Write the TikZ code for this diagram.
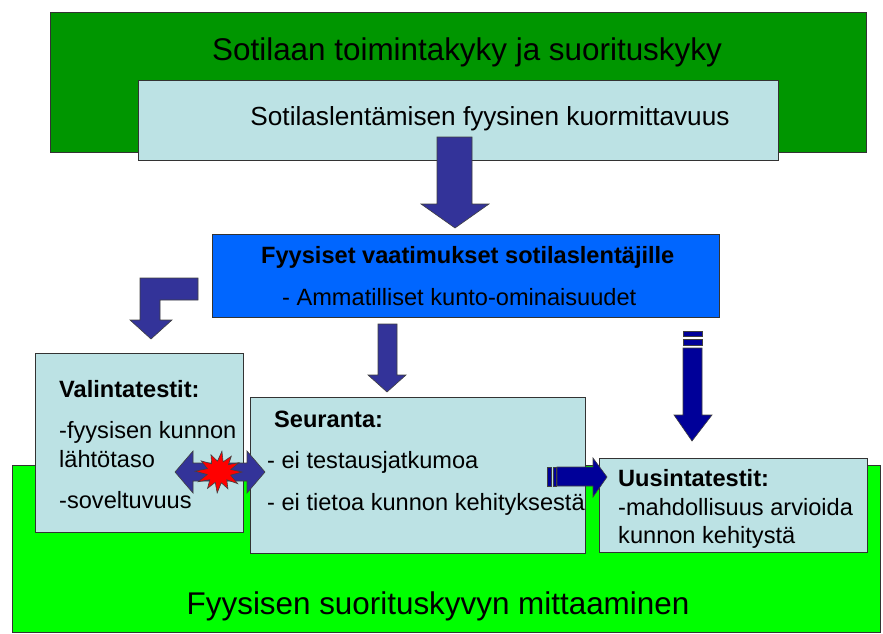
\documentclass[tikz,border=0pt]{standalone}
\usepackage{fontspec}
\setmainfont{Liberation Sans}
\definecolor{darkgreen}{RGB}{0,150,0}
\definecolor{lightgreen}{RGB}{0,255,0}
\definecolor{palecyan}{RGB}{188,226,228}
\definecolor{brightblue}{RGB}{0,102,255}
\definecolor{arrowblue}{RGB}{51,51,153}
\definecolor{navyblue}{RGB}{0,0,153}

\begin{document}
\begin{tikzpicture}[x=1pt,y=-1pt,
  box/.style={draw=black!80,line width=0.6pt,inner sep=0pt,anchor=north west},
  txt/.style={inner sep=0pt,anchor=base west,font=\fontsize{23.6}{28}\selectfont},
  big/.style={inner sep=0pt,anchor=base,font=\fontsize{31.4}{36}\selectfont},
  blockarrow/.style={fill=arrowblue,draw=black!75,line width=0.6pt},
  navyarrow/.style={fill=navyblue,draw=black!75,line width=0.6pt},
  burst/.style={fill=red,draw=black!75,line width=0.6pt}
]
  \useasboundingbox (0,0) rectangle (883,634);
  % top
  \node[box,fill=darkgreen,minimum width=816,minimum height=140] (toimintakyky) at (50,12) {};
  \node[box,fill=palecyan,minimum width=640,minimum height=80] (kuormitus) at (138,80) {};
  \node[big] (toimintakykytxt) at (467,61) {Sotilaan toimintakyky ja suorituskyky};
  \node[inner sep=0pt,anchor=base,font=\fontsize{26.2}{30}\selectfont] (kuormitustxt) at (490,125) {Sotilaslentämisen fyysinen kuormittavuus};
  \draw[blockarrow] (437,137) -- (472,137) -- (472,204) -- (489,204) -- (455,228) -- (421,204) -- (437,204) -- cycle;
  % vaatimukset
  \node[box,fill=brightblue,minimum width=507,minimum height=83] (vaatimukset) at (212,234) {};
  \node[txt,font=\fontsize{23.6}{28}\selectfont\bfseries] (vaatimuksettxt) at (261,263) {Fyysiset vaatimukset sotilaslentäjille};
  \node[txt] (kunto) at (282,305) {- Ammatilliset kunto-ominaisuudet};
  \draw[blockarrow] (198,278) -- (198,300) -- (160,300) -- (160,320) -- (172,320) -- (151,339) -- (130,320) -- (140,320) -- (140,278) -- cycle;
  \draw[blockarrow] (378,324) -- (397,324) -- (397,375) -- (406,375) -- (387,392) -- (368,375) -- (378,375) -- cycle;
  \fill[navyarrow] (683,331) rectangle (702,336);
  \fill[navyarrow] (683,339) rectangle (702,345);
  \draw[navyarrow] (683,348) -- (702,348) -- (702,415) -- (712,415) -- (692,441) -- (674,415) -- (683,415) -- cycle;
  % mittaaminen
  \node[box,fill=lightgreen,minimum width=868,minimum height=167] (mittaaminen) at (12,465) {};
  \node[big] (mittaaminentxt) at (438,614) {Fyysisen suorituskyvyn mittaaminen};
  \node[box,fill=palecyan,minimum width=208,minimum height=179] (valinta) at (35,353) {};
  \node[box,fill=palecyan,minimum width=335,minimum height=156] (seuranta) at (250,397) {};
  \node[box,fill=palecyan,minimum width=268,minimum height=94] (uusinta) at (599,458) {};
  \node[txt,font=\fontsize{23.6}{28}\selectfont\bfseries] (valintatxt) at (59,397) {Valintatestit:};
  \node[txt] (lahtotaso1) at (59,438) {-fyysisen kunnon};
  \node[txt] (lahtotaso2) at (59,467) {lähtötaso};
  \node[txt] (soveltuvuus) at (59,508) {-soveltuvuus};
  \node[txt,font=\fontsize{23.6}{28}\selectfont\bfseries] (seurantatxt) at (274,427) {Seuranta:};
  \node[txt] (jatkumo) at (267,468) {- ei testausjatkumoa};
  \node[txt] (kehitys) at (267,510) {- ei tietoa kunnon kehityksestä};
  \node[txt,font=\fontsize{23.6}{28}\selectfont\bfseries] (uusintatxt) at (618,486) {Uusintatestit:};
  \node[txt] (arvio1) at (618,515) {-mahdollisuus arvioida};
  \node[txt] (arvio2) at (618,543) {kunnon kehitystä};
  % nuolet
  \fill[navyarrow] (547,467) rectangle (551,486);
  \fill[navyarrow] (553,467) rectangle (556,486);
  \draw[navyarrow] (557,467) -- (593,467) -- (593,458) -- (607,477) -- (593,497) -- (593,486) -- (557,486) -- cycle;
  \draw[blockarrow] (175,472) -- (193,451) -- (193,463) -- (247,463) -- (247,451) -- (265,472) -- (247,493) -- (247,481) -- (193,481) -- (193,493) -- cycle;
  \draw[burst,shift={(219,472)}] (0:23) -- (15:12) -- (32:22) -- (45:11) -- (62:19) -- (78:11) -- (95:21) -- (110:11) -- (125:20) -- (140:12) -- (155:23) -- (168:12) -- (182:24) -- (196:12) -- (212:21) -- (228:11) -- (245:19) -- (262:11) -- (278:21) -- (292:11) -- (308:20) -- (322:12) -- (335:22) -- (348:12) -- cycle;
\end{tikzpicture}
\end{document}
